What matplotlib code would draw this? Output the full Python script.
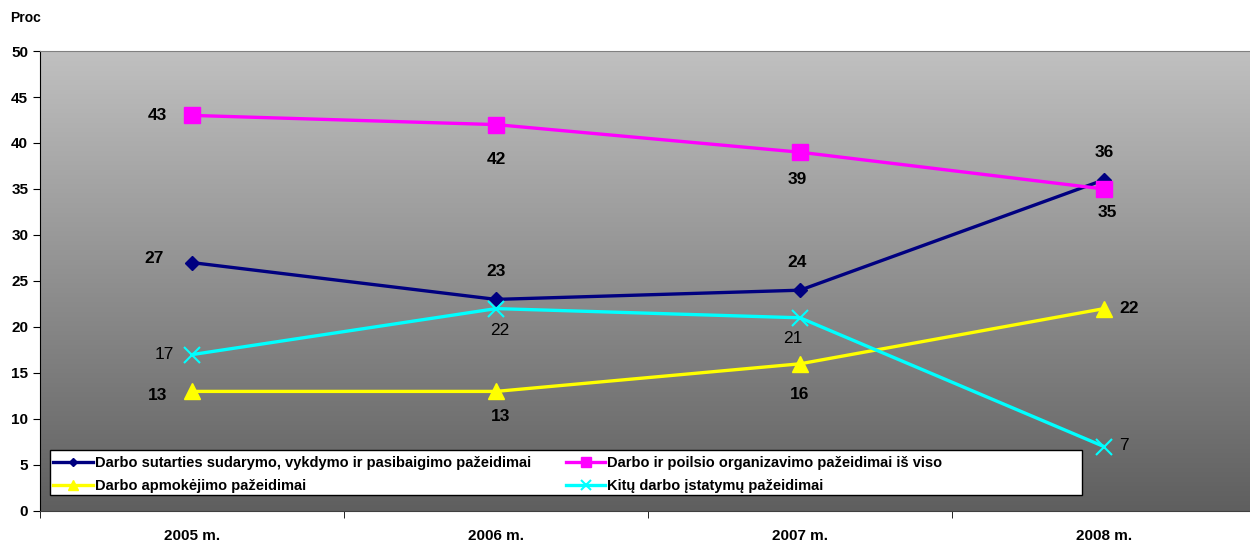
import numpy as np
import matplotlib.pyplot as plt
from matplotlib.patches import Rectangle
from matplotlib.colors import LinearSegmentedColormap

plt.rcParams['font.family'] = ['Liberation Sans', 'DejaVu Sans']

years = ['2005 m.', '2006 m.', '2007 m.', '2008 m.']
sutartis = [27, 23, 24, 36]
poilsis = [43, 42, 39, 35]
apmokejimas = [13, 13, 16, 22]
kiti = [17, 22, 21, 7]

names = ['Darbo sutarties sudarymo, vykdymo ir pasibaigimo pažeidimai',
         'Darbo ir poilsio organizavimo pažeidimai iš viso',
         'Darbo apmokėjimo pažeidimai',
         'Kitų darbo įstatymų pažeidimai']

W, H = 1250, 543
fig = plt.figure(figsize=(12.5, 5.43), dpi=100)
ax = fig.add_axes([40 / W, 32 / H, 1210 / W, 460 / H])

x = np.arange(len(years))
ax.set_xlim(-0.5, 3.48)
ax.set_ylim(0, 50)

# gradient background
grad = np.linspace(0, 1, 256).reshape(-1, 1)
cmap = LinearSegmentedColormap.from_list('g', ['#5f5f5f', '#c0c0c0'])
ax.imshow(grad, extent=[0, 1, 0, 1], transform=ax.transAxes, aspect='auto',
          cmap=cmap, origin='lower', zorder=0)

l1, = ax.plot(x, sutartis, color='#000080', lw=2.4, marker='D', ms=7, zorder=3)
l2, = ax.plot(x, poilsis, color='#ff00ff', lw=2.4, marker='s', ms=11, zorder=4)
l3, = ax.plot(x, apmokejimas, color='#ffff00', lw=2.4, marker='^', ms=12, zorder=3)
l4, = ax.plot(x, kiti, color='#00ffff', lw=2.4, marker='x', ms=11, mew=1.5, zorder=3)

# data labels (offsets in points)
def lab(xs, ys, offs, bold=True):
    for xi, yi, (dx, dy) in zip(xs, ys, offs):
        ax.annotate(str(yi), (xi, yi), xytext=(dx, dy), textcoords='offset points',
                    ha='center', va='center', fontsize=12.5,
                    fontweight='bold' if bold else 'normal', color='black', zorder=5)

lab(x, sutartis, [(-27, 3), (0, 20), (-2, 20), (0, 20)])
lab(x, poilsis, [(-25, 0), (0, -25), (-2, -20), (2, -17)])
lab(x, apmokejimas, [(-25, -3), (3, -18), (0, -22), (18, 0)])
lab(x, kiti, [(-20, 0), (3, -16), (-5, -15), (14, 1)], bold=False)

ax.set_xticks(x)
ax.set_xticklabels(years, fontsize=11, fontweight='bold')
ax.set_xticks(np.arange(-0.5, 3.5, 1), minor=True)
ax.tick_params(axis='x', which='major', length=0, pad=13)
ax.tick_params(axis='x', which='minor', length=5, direction='out', color='black')
ax.set_yticks(range(0, 51, 5))
ax.tick_params(axis='y', labelsize=11, length=5, direction='out')
for t in ax.get_yticklabels():
    t.set_fontweight('bold')

ax.spines['top'].set_color('#808080')
ax.spines['right'].set_visible(False)
ax.spines['bottom'].set_color('#404040')
ax.spines['left'].set_color('black')

fig.text(10 / W, 1 - 18 / H, 'Proc', fontsize=10, fontweight='bold', va='center')

# legend box
ax.add_patch(Rectangle((10 / 1210, 16 / 460), 1032 / 1210, 45 / 460, transform=ax.transAxes,
                       facecolor='white', edgecolor='black', lw=1, zorder=6))
leg = ax.legend([l1, l3, l2, l4], [names[0], names[2], names[1], names[3]], ncol=2,
                loc='upper left', bbox_to_anchor=(11 / 1210, 57 / 460),
                prop={'weight': 'bold', 'size': 10.5}, frameon=False,
                handlelength=2.7, handletextpad=0.15, borderpad=0.15, labelspacing=0.6,
                columnspacing=2.4, borderaxespad=0, markerscale=0.65)
leg.set_zorder(7)

fig.savefig('out.png', dpi=100)
